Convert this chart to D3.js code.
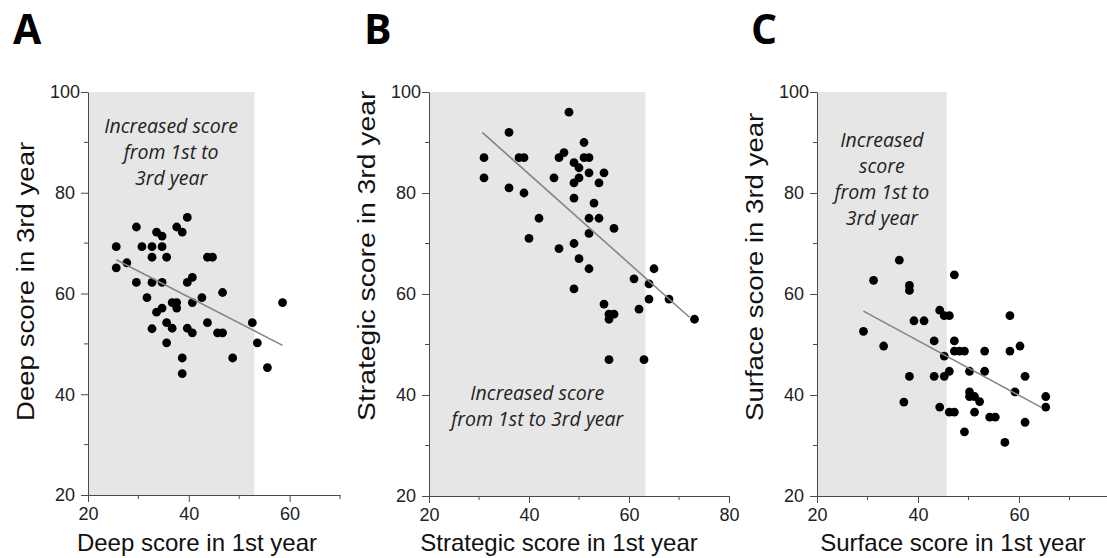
<!DOCTYPE html>
<html>
<head>
<meta charset="utf-8">
<script src="https://cdn.jsdelivr.net/npm/d3@7/dist/d3.min.js"></script>
<style>
  html, body { margin: 0; padding: 0; background: #fff; }
  svg { display: block; }
</style>
</head>
<body>
<svg id="chart" width="1107" height="558"></svg>
<script>
// ---------------- DATA ----------------
const panelTitles = ["A", "B", "C"];
const xAxisLabels = ["Deep score in 1st year", "Strategic score in 1st year", "Surface score in 1st year"];
const yAxisLabels = ["Deep score in 3rd year", "Strategic score in 3rd year", "Surface score in 3rd year"];
const yTickValues = [20, 40, 60, 80, 100];
const xTickValuesA = [20, 40, 60];
const xTickValuesB = [20, 40, 60, 80];
const xTickValuesC = [20, 40, 60];

// Deep (A): [1st year, 3rd year]
const deepScores = [
  [25.6,69.3],[25.6,65.1],[27.7,66.1],[29.6,73.2],[29.6,62.2],[30.7,69.3],[31.7,59.2],
  [32.7,69.3],[32.7,67.2],[32.7,62.2],[32.7,53.0],[33.6,72.2],[34.7,71.4],[34.7,69.3],
  [34.7,62.2],[33.6,56.3],[34.7,57.1],[35.6,67.2],[35.6,54.2],[35.6,50.2],[36.7,53.1],
  [36.7,58.2],[37.6,58.2],[37.6,57.1],[37.6,73.2],[38.7,72.2],[38.7,47.2],[38.7,44.1],
  [39.7,75.1],[39.7,62.2],[39.7,53.1],[40.7,63.2],[40.7,58.2],[40.7,52.2],[42.6,59.2],
  [43.7,67.2],[44.7,67.2],[43.7,54.2],[45.7,52.2],[46.7,52.2],[46.7,60.2],[48.7,47.2],
  [52.6,54.2],[53.6,50.2],[55.6,45.3],[58.6,58.2]
];
// Strategic (B)
const strategicScores = [
  [31,87],[31,83],[36,92],[36,81],[38,87],[39,87],[39,80],[42,75],[40,71],[45,83],
  [46,87],[47,88],[46,69],[48,96],[49,86],[49,82],[49,79],[49,70],[49,61],[50,85],
  [50,83],[50,67],[51,90],[51,87],[52,87],[52,84],[52,75],[52,72],[52,65],[53,78],
  [54,82],[54,75],[55,84],[55,58],[56,56],[56,55],[57,56],[57,73],[56,47],[61,63],
  [62,57],[63,47],[64,62],[64,59],[65,65],[68,59],[73.1,55]
];
// Surface (C)
const surfaceScores = [
  [29.2,52.6],[31.2,62.7],[33.2,49.7],[36.3,66.7],[37.2,38.6],[38.3,61.7],[38.3,60.7],
  [38.3,43.7],[39.2,54.7],[41.2,54.7],[43.2,50.7],[43.2,43.7],[44.3,56.8],[44.3,37.6],
  [45.2,55.7],[45.2,47.7],[45.2,43.7],[46.2,55.7],[46.2,44.7],[46.2,36.6],[47.2,36.6],
  [47.2,63.8],[47.2,50.7],[47.2,48.7],[48.2,48.7],[49.2,48.7],[49.2,32.7],[50.2,44.7],
  [50.2,40.6],[50.2,39.7],[51.2,39.7],[51.2,36.6],[52.2,38.7],[53.2,48.7],[53.2,44.7],
  [54.2,35.6],[55.3,35.6],[57.2,30.6],[58.2,55.7],[58.2,48.7],[59.2,40.6],[60.2,49.7],
  [61.2,43.7],[61.2,34.6],[65.3,39.7],[65.3,37.6]
];
// Regression line end points [x, y]
const deepFit = [[25.6,66.7],[58.6,49.7]];
const strategicFit = [[30.65,92.0],[72.1,55.4]];
const surfaceFit = [[29.2,56.6],[64.5,37.5]];
// 1st-year score below which 3rd-year score increased (shaded band upper limit)
const increaseLimits = [53, 63.3, 45.7];
const noteLines = [
  ["Increased score", "from 1st to", "3rd year"],
  ["Increased score", "from 1st to 3rd year"],
  ["Increased", "score", "from 1st to", "3rd year"]
];

// ---------------- LAYOUT ----------------
const layout = [
  { titleX: 13, xDomain: [20, 70], xRange: [88, 340], yRange: [495, 92], xTicks: xTickValuesA,
    xLabelX: 197, noteY: 133, points: deepScores, fit: deepFit, yLabelScale: 1.15 },
  { titleX: 364, xDomain: [20, 80], xRange: [429, 729], yRange: [496, 92], xTicks: xTickValuesB,
    xLabelX: 559, noteY: 400, points: strategicScores, fit: strategicFit, yLabelScale: 1.18 },
  { titleX: 751, xDomain: [20, 80], xRange: [817, 1120], yRange: [496, 92], xTicks: xTickValuesC,
    xLabelX: 953, noteY: 147, points: surfaceScores, fit: surfaceFit, yLabelScale: 1.15 }
];

const svg = d3.select("#chart");
const axisColor = "#4a4a4a";
const textFont = "'Liberation Sans', Arial, Helvetica, sans-serif";

layout.forEach((p, i) => {
  const x = d3.scaleLinear().domain(p.xDomain).range(p.xRange);
  const y = d3.scaleLinear().domain([20, 100]).range(p.yRange);
  const g = svg.append("g");

  // shaded band
  g.append("rect")
    .attr("x", x(p.xDomain[0]))
    .attr("y", y(100))
    .attr("width", x(increaseLimits[i]) - x(p.xDomain[0]))
    .attr("height", y(20) - y(100))
    .attr("fill", "#e6e6e6");

  // note text
  const cx = (x(p.xDomain[0]) + x(increaseLimits[i])) / 2;
  noteLines[i].forEach((line, k) => {
    g.append("text")
      .attr("x", cx)
      .attr("y", p.noteY + k * 26)
      .attr("text-anchor", "middle")
      .attr("font-family", "'Open Sans', sans-serif")
      .attr("font-style", "italic")
      .attr("font-size", 19.5)
      .attr("fill", "#222")
      .text(line);
  });

  // minor ticks
  const yMinor = d3.range(30, 100, 20);
  g.selectAll(".ym").data(yMinor).enter().append("line")
    .attr("x1", x(p.xDomain[0]) - 4).attr("x2", x(p.xDomain[0]))
    .attr("y1", d => y(d)).attr("y2", d => y(d))
    .attr("stroke", axisColor).attr("stroke-width", 1);
  const xMinor = d3.range(30, p.xDomain[1] + 1, 20);
  g.selectAll(".xm").data(xMinor).enter().append("line")
    .attr("x1", d => x(d)).attr("x2", d => x(d))
    .attr("y1", y(20)).attr("y2", y(20) + 4)
    .attr("stroke", axisColor).attr("stroke-width", 1);

  // y axis
  const yAxis = g.append("g")
    .attr("transform", `translate(${x(p.xDomain[0])},0)`)
    .call(d3.axisLeft(y).tickValues(yTickValues).tickSize(7).tickSizeOuter(0));
  yAxis.selectAll("path, line").attr("stroke", axisColor);
  yAxis.selectAll("text")
    .attr("x", -23)
    .attr("text-anchor", "middle")
    .attr("font-family", textFont)
    .attr("font-size", 18)
    .attr("fill", "#222");

  // x axis
  const xAxis = g.append("g")
    .attr("transform", `translate(0,${y(20)})`)
    .call(d3.axisBottom(x).tickValues(p.xTicks).tickSize(7).tickSizeOuter(0));
  xAxis.selectAll("path, line").attr("stroke", axisColor);
  xAxis.selectAll("text")
    .attr("y", 12)
    .attr("font-family", textFont)
    .attr("font-size", 18)
    .attr("fill", "#222");

  // points
  g.selectAll(".pt").data(p.points).enter().append("circle")
    .attr("cx", d => x(d[0]))
    .attr("cy", d => y(d[1]))
    .attr("r", 4.4)
    .attr("fill", "#000");

  // regression line
  g.append("line")
    .attr("x1", x(p.fit[0][0])).attr("y1", y(p.fit[0][1]))
    .attr("x2", x(p.fit[1][0])).attr("y2", y(p.fit[1][1]))
    .attr("stroke", "#858585").attr("stroke-width", 1.6);

  // axis labels
  g.append("text")
    .attr("x", p.xLabelX)
    .attr("y", 551)
    .attr("text-anchor", "middle")
    .attr("font-family", textFont)
    .attr("font-size", 24)
    .attr("fill", "#111")
    .text(xAxisLabels[i]);

  g.append("text")
    .attr("transform", `translate(${x(p.xDomain[0]) - 54},421) rotate(-90) scale(${p.yLabelScale},1)`)
    .attr("text-anchor", "start")
    .attr("font-family", textFont)
    .attr("font-size", 24)
    .attr("fill", "#111")
    .text(yAxisLabels[i]);

  // panel title
  svg.append("text")
    .attr("x", p.titleX)
    .attr("y", 44)
    .attr("font-family", "'Open Sans', sans-serif")
    .attr("font-weight", 700)
    .attr("font-size", 41)
    .attr("fill", "#000")
    .text(panelTitles[i]);
});
</script>
</body>
</html>
